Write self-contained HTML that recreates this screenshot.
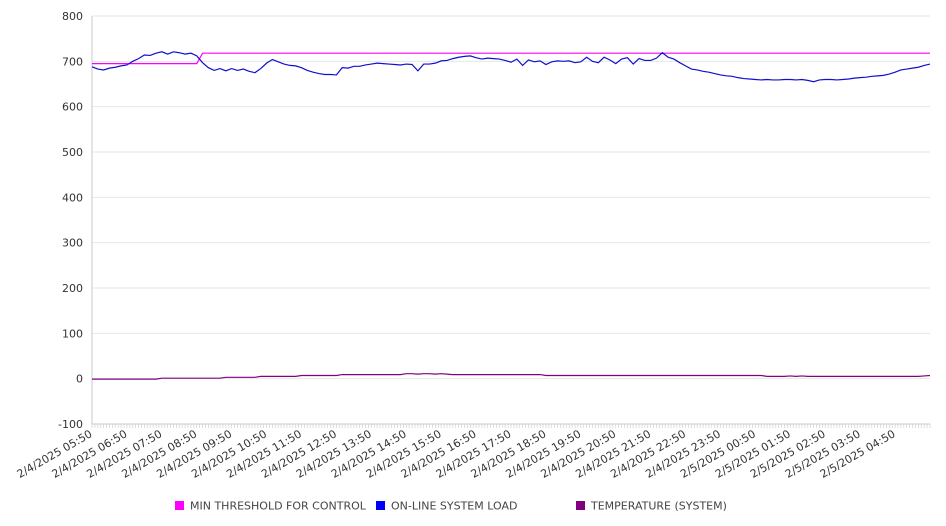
<!DOCTYPE html>
<html><head><meta charset="utf-8">
<style>
html,body{margin:0;padding:0;background:#fff;}
svg{display:block;font-family:"DejaVu Sans","Liberation Sans",sans-serif;}
</style></head>
<body>
<svg id="chart" width="946" height="526" viewBox="0 0 946 526"></svg>
<script>
const yTicks = [-100,0,100,200,300,400,500,600,700,800];
const xTickLabels = ["2/4/2025 05:50","2/4/2025 06:50","2/4/2025 07:50","2/4/2025 08:50","2/4/2025 09:50","2/4/2025 10:50","2/4/2025 11:50","2/4/2025 12:50","2/4/2025 13:50","2/4/2025 14:50","2/4/2025 15:50","2/4/2025 16:50","2/4/2025 17:50","2/4/2025 18:50","2/4/2025 19:50","2/4/2025 20:50","2/4/2025 21:50","2/4/2025 22:50","2/4/2025 23:50","2/5/2025 00:50","2/5/2025 01:50","2/5/2025 02:50","2/5/2025 03:50","2/5/2025 04:50"];
const loadValues = [
688,683,681,685,687,690,
692,700,706,714,713,718,
721,716,721,719,716,718,
712,697,686,680,684,679,
684,680,683,678,675,684,
696,704,699,694,691,690,
686,680,676,673,671,671,
670,686,685,689,689,692,
694,696,695,694,693,692,
694,693,679,694,694,696,
701,702,706,709,711,712,
708,705,707,706,705,702,
698,705,691,703,699,701,
693,699,701,700,701,697,
699,709,700,697,709,703,
695,705,708,694,706,702,
702,707,719,709,705,697,
690,683,681,678,676,673,
670,668,667,664,662,661,
660,659,660,659,659,660,
660,659,660,658,655,659,
660,660,659,660,661,663,
664,665,667,668,669,672,
676,681,683,685,687,691,
694];
const thresholdValues = [
695,695,695,695,695,695,695,695,695,695,
695,695,695,695,695,695,695,695,695,
718,718,718,718,718,718,718,718,718,718,
718,718,718,718,718,718,718,718,718,718,
718,718,718,718,718,718,718,718,718,718,
718,718,718,718,718,718,718,718,718,718,
718,718,718,718,718,718,718,718,718,718,
718,718,718,718,718,718,718,718,718,718,
718,718,718,718,718,718,718,718,718,718,
718,718,718,718,718,718,718,718,718,718,
718,718,718,718,718,718,718,718,718,718,
718,718,718,718,718,718,718,718,718,718,
718,718,718,718,718,718,718,718,718,718,
718,718,718,718,718,718,718,718,718,718,
718,718,718,718,718,718];
const tempValues = [
-1,-1,-1,-1,-1,-1,-1,-1,-1,-1,-1,-1,
1,1,1,1,1,1,1,1,1,1,1,
3,3,3,3,3,3,
5,5,5,5,5,5,5,
7,7,7,7,7,7,7,
9,9,9,9,9,9,9,9,9,9,9,
11,11,10,11,11,10,11,10,
9,9,9,9,9,9,9,9,9,9,9,9,9,9,9,9,
7,7,7,7,7,7,7,7,7,7,7,7,7,7,7,7,7,7,7,7,7,7,7,7,7,7,7,7,7,7,7,7,7,7,7,7,7,7,
5,5,5,5,6,5,6,5,5,5,5,5,5,5,5,5,5,5,5,5,5,5,5,5,5,5,5,6,
7];

const NS="http://www.w3.org/2000/svg";
const svg=document.getElementById('chart');
const X0=92,X1=930,Y0=16,Y1=424,YMIN=-100,YMAX=800;
const N=loadValues.length-1;
function xScale(i){return X0+(X1-X0)*i/N;}
function yScale(v){return Y1-(v-YMIN)/(YMAX-YMIN)*(Y1-Y0);}
function mk(tag,attrs){const e=document.createElementNS(NS,tag);for(const k in attrs)e.setAttribute(k,attrs[k]);svg.appendChild(e);return e;}

yTicks.forEach(t=>{
  const y=yScale(t);
  const g=mk('line',{x1:X0,x2:X1,y1:y,y2:y,stroke:'#e6e6e6','stroke-width':1});
  
  
  const tx=mk('text',{x:83,y:y+4,'text-anchor':'end','font-size':11,fill:'#333'});
  tx.textContent=t;
  
  
});
const ax=mk('line',{x1:X0,x2:X0,y1:Y0,y2:Y1,stroke:'#c8c8c8','stroke-width':1});


const bx=mk('line',{x1:X0,x2:X1,y1:Y1,y2:Y1,stroke:'#c8c8c8','stroke-width':1});


for(let k=0;k<=N*2;k++){
  const x=X0+(X1-X0)*k/(N*2);
  const tk=mk('line',{x1:x,x2:x,y1:Y1,y2:Y1+4,stroke:'#d0d0d0','stroke-width':0.7});
  
  
}
xTickLabels.forEach((lab,j)=>{
  const x=xScale(j*6);
  const t=mk('text',{x:x+1,y:Y1+12,'text-anchor':'end','font-size':11,fill:'#333',transform:`rotate(-30 ${x+1} ${Y1+12})`});
  t.textContent=lab;
  
  
});
function series(vals,color,name){
  const d=vals.map((v,i)=>(i?'L':'M')+xScale(i).toFixed(2)+' '+yScale(v).toFixed(2)).join(' ');
  const p=mk('path',{d:d,fill:'none',stroke:color,'stroke-width':1.2});
  
  
}
series(tempValues,'#800080','temperature-line');
series(thresholdValues,'#ff00ff','min-threshold-line');
series(loadValues,'#1010d0','online-load-line');

const legend=[['#ff00ff','MIN THRESHOLD FOR CONTROL',175,'legend-min-threshold'],['#0000ff','ON-LINE SYSTEM LOAD',376,'legend-online-load'],['#800080','TEMPERATURE (SYSTEM)',576,'legend-temperature']];
legend.forEach(l=>{
  const r=mk('rect',{x:l[2],y:501,width:9,height:9,fill:l[0]});
  
  
  const t=mk('text',{x:l[2]+15,y:509.5,'font-size':11,fill:'#444'});
  t.textContent=l[1];
  
  
});
</script>
</body></html>
